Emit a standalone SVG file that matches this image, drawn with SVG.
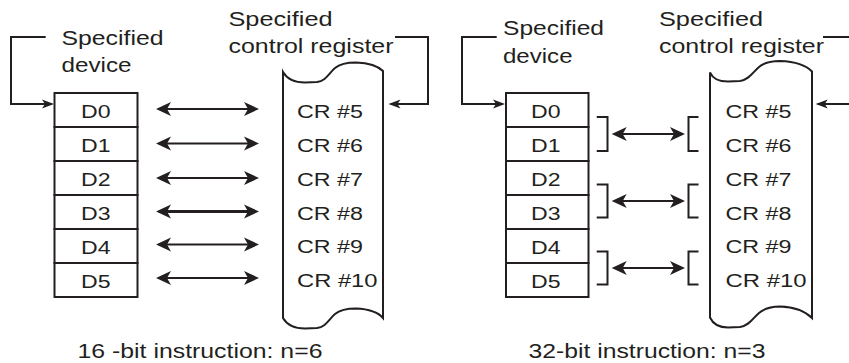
<svg xmlns="http://www.w3.org/2000/svg" width="849" height="363" viewBox="0 0 849 363">
<style>
.ln{fill:none;stroke:#231f20;stroke-width:2}
.bx{fill:#fff;stroke:#231f20;stroke-width:2}
.t{font-family:"Liberation Sans",Arial,sans-serif;fill:#231f20}
.h{font-size:21px}
.d{font-size:18px}
.c{font-size:18px}
.cap{font-size:20px}
.ar{fill:none;stroke:#231f20;stroke-width:2;marker-start:url(#ah);marker-end:url(#ah)}
.sa{fill:none;stroke:#231f20;stroke-width:2;marker-end:url(#sah)}
</style>
<defs>
<marker id="ah" markerUnits="userSpaceOnUse" viewBox="-16 -8 17 16" markerWidth="17" markerHeight="16" refX="-3" refY="0" orient="auto-start-reverse" overflow="visible">
<path d="M0,0 L-15,-7 L-11,0 L-15,7 Z" fill="#231f20"/>
</marker>
<marker id="sah" markerUnits="userSpaceOnUse" viewBox="-13 -5 14 10" markerWidth="14" markerHeight="10" refX="-2" refY="0" orient="auto" overflow="visible">
<path d="M0,0 L-12,-4.5 L-9,0 L-12,4.5 Z" fill="#231f20"/>
</marker>
</defs>

<!-- Left panel labels -->
<g id="label-device-left">
<text class="t h" x="61.5" y="45" textLength="102" lengthAdjust="spacingAndGlyphs">Specified</text>
<text class="t h" x="61.5" y="71.7" textLength="70" lengthAdjust="spacingAndGlyphs">device</text>
</g>
<g id="label-cr-left">
<text class="t h" x="228.5" y="26" textLength="104" lengthAdjust="spacingAndGlyphs">Specified</text>
<text class="t h" x="228.5" y="53.3" textLength="165" lengthAdjust="spacingAndGlyphs">control register</text>
</g>

<!-- Left panel D column -->
<g id="d0-left"><rect class="bx" x="54.5" y="93" width="83" height="34"/><text class="t d" x="81" y="117.5" textLength="29.5" lengthAdjust="spacingAndGlyphs">D0</text></g>
<g id="d1-left"><rect class="bx" x="54.5" y="127" width="83" height="34"/><text class="t d" x="81" y="151.5" textLength="29.5" lengthAdjust="spacingAndGlyphs">D1</text></g>
<g id="d2-left"><rect class="bx" x="54.5" y="161" width="83" height="34"/><text class="t d" x="81" y="185.5" textLength="29.5" lengthAdjust="spacingAndGlyphs">D2</text></g>
<g id="d3-left"><rect class="bx" x="54.5" y="195" width="83" height="34"/><text class="t d" x="81" y="219.5" textLength="29.5" lengthAdjust="spacingAndGlyphs">D3</text></g>
<g id="d4-left"><rect class="bx" x="54.5" y="229" width="83" height="34"/><text class="t d" x="81" y="253.5" textLength="29.5" lengthAdjust="spacingAndGlyphs">D4</text></g>
<g id="d5-left"><rect class="bx" x="54.5" y="263" width="83" height="34"/><text class="t d" x="81" y="287.5" textLength="29.5" lengthAdjust="spacingAndGlyphs">D5</text></g>

<!-- Left panel CR box -->
<g id="cr-left">
<path class="ln" d="M283,72 C287,79 294,82.5 305,82.5 L317,82 C326,81 329,73 335,68 C341,63 348,62.5 356,62.5 C368,63 378,66 383,71 L383,318 C378,312 368,309 356,308.5 C348,308.5 341,309 335,314 C329,319 326,327 317,328 L305,328.5 C294,328.5 287,325 283,318 Z"/>
<text class="t c" x="297" y="118.3" textLength="66" lengthAdjust="spacingAndGlyphs">CR #5</text>
<text class="t c" x="297" y="152.3" textLength="66" lengthAdjust="spacingAndGlyphs">CR #6</text>
<text class="t c" x="297" y="185.5" textLength="66" lengthAdjust="spacingAndGlyphs">CR #7</text>
<text class="t c" x="297" y="220" textLength="66" lengthAdjust="spacingAndGlyphs">CR #8</text>
<text class="t c" x="297" y="252.7" textLength="66" lengthAdjust="spacingAndGlyphs">CR #9</text>
<text class="t c" x="297" y="287.3" textLength="80.5" lengthAdjust="spacingAndGlyphs">CR #10</text>
</g>

<!-- Right panel labels -->
<g id="label-device-right">
<text class="t h" x="503" y="35" textLength="101" lengthAdjust="spacingAndGlyphs">Specified</text>
<text class="t h" x="503" y="63.3" textLength="69.5" lengthAdjust="spacingAndGlyphs">device</text>
</g>
<g id="label-cr-right">
<text class="t h" x="659" y="26" textLength="104" lengthAdjust="spacingAndGlyphs">Specified</text>
<text class="t h" x="659" y="53.3" textLength="165" lengthAdjust="spacingAndGlyphs">control register</text>
</g>

<!-- Right panel D column -->
<g id="d0-right"><rect class="bx" x="506" y="93" width="82.5" height="34"/><text class="t d" x="531" y="117.5" textLength="29.5" lengthAdjust="spacingAndGlyphs">D0</text></g>
<g id="d1-right"><rect class="bx" x="506" y="127" width="82.5" height="34"/><text class="t d" x="531" y="151.5" textLength="29.5" lengthAdjust="spacingAndGlyphs">D1</text></g>
<g id="d2-right"><rect class="bx" x="506" y="161" width="82.5" height="34"/><text class="t d" x="531" y="185.5" textLength="29.5" lengthAdjust="spacingAndGlyphs">D2</text></g>
<g id="d3-right"><rect class="bx" x="506" y="195" width="82.5" height="34"/><text class="t d" x="531" y="219.5" textLength="29.5" lengthAdjust="spacingAndGlyphs">D3</text></g>
<g id="d4-right"><rect class="bx" x="506" y="229" width="82.5" height="34"/><text class="t d" x="531" y="253.5" textLength="29.5" lengthAdjust="spacingAndGlyphs">D4</text></g>
<g id="d5-right"><rect class="bx" x="506" y="263" width="82.5" height="34"/><text class="t d" x="531" y="287.5" textLength="29.5" lengthAdjust="spacingAndGlyphs">D5</text></g>

<!-- Right panel CR box -->
<g id="cr-right">
<path class="ln" d="M710,72.5 C713,79 718,81.5 728,81.5 L740,81 C749,80 753,72 759,67 C765,62 772,61 780,61 C793,61.5 805,64 812,71.5 L812,318 C805,311 793,307 780,306.5 C772,306.5 765,308 759,313 C753,318 749,326 740,327 L728,327.5 C718,327.5 713,324 710,317.5 Z"/>
<text class="t c" x="725.5" y="118.3" textLength="66" lengthAdjust="spacingAndGlyphs">CR #5</text>
<text class="t c" x="725.5" y="152.3" textLength="66" lengthAdjust="spacingAndGlyphs">CR #6</text>
<text class="t c" x="725.5" y="185.5" textLength="66" lengthAdjust="spacingAndGlyphs">CR #7</text>
<text class="t c" x="725.5" y="220" textLength="66" lengthAdjust="spacingAndGlyphs">CR #8</text>
<text class="t c" x="725.5" y="252.7" textLength="66" lengthAdjust="spacingAndGlyphs">CR #9</text>
<text class="t c" x="725.5" y="287.3" textLength="81" lengthAdjust="spacingAndGlyphs">CR #10</text>
</g>

<!-- Captions -->
<g id="caption-left"><text class="t cap" x="77.5" y="357.7" textLength="245" lengthAdjust="spacingAndGlyphs">16 -bit instruction: n=6</text></g>
<g id="caption-right"><text class="t cap" x="528.5" y="357.7" textLength="237" lengthAdjust="spacingAndGlyphs">32-bit instruction: n=3</text></g>

<!-- Connectors -->
<g id="connectors">
<path class="sa" d="M45.7,37 H11 V104 H52"/>
<path class="sa" d="M395,37 H428 V104 H390.5"/>
<line class="ar" x1="159" y1="109" x2="256" y2="109"/>
<line class="ar" x1="159" y1="143.5" x2="256" y2="143.5"/>
<line class="ar" x1="159" y1="178" x2="256" y2="178"/>
<line class="ar" x1="159" y1="211.5" x2="256" y2="211.5" style="stroke-width:3"/>
<line class="ar" x1="159" y1="244.5" x2="256" y2="244.5"/>
<line class="ar" x1="159" y1="278" x2="256" y2="278"/>

<path class="sa" d="M496.7,37 H462 V104 H503"/>
<path class="ln" d="M823,37 H850"/>
<path class="sa" d="M851,104 H817.7"/>

<path class="ln" d="M596.7,117 H607.5 V151 H596.7"/>
<path class="ln" d="M698.5,117 H688.5 V151 H698.5"/>
<line class="ar" x1="614.7" y1="134" x2="682" y2="134"/>
<path class="ln" d="M596.7,184.5 H607.5 V217.5 H596.7"/>
<path class="ln" d="M698.5,184.5 H688.5 V217.5 H698.5"/>
<line class="ar" x1="614.7" y1="201" x2="682" y2="201"/>
<path class="ln" d="M596.7,251.5 H607.5 V284.5 H596.7"/>
<path class="ln" d="M698.5,251.5 H688.5 V284.5 H698.5"/>
<line class="ar" x1="614.7" y1="268" x2="682" y2="268"/>
</g>
</svg>
